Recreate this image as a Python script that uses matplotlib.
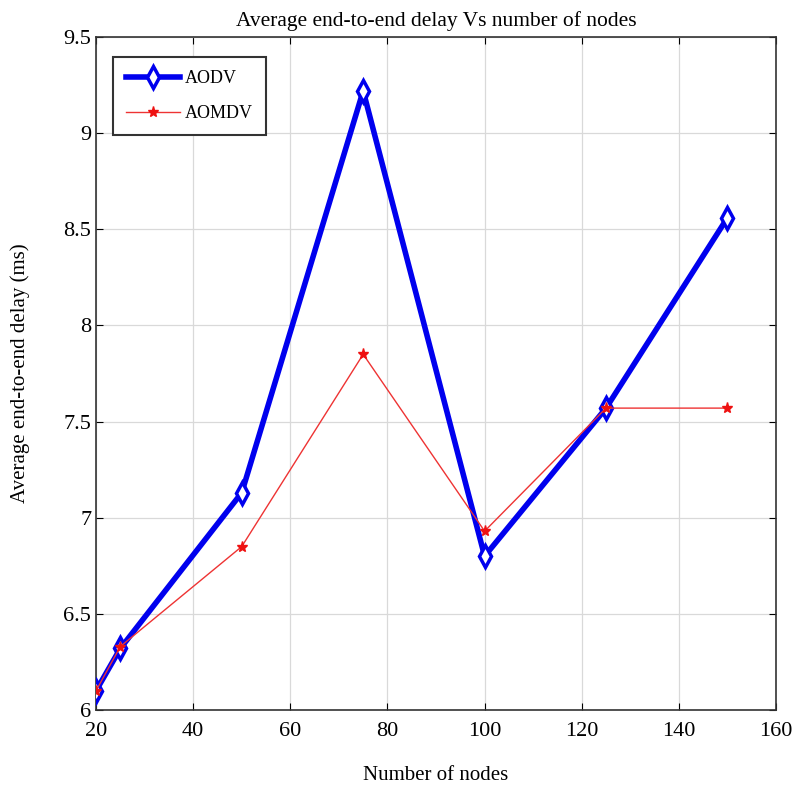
import matplotlib
matplotlib.use("Agg")
import matplotlib.pyplot as plt

nodes = [20, 25, 50, 75, 100, 125, 150]
aodv = [6.10, 6.32, 7.13, 9.22, 6.80, 7.57, 8.56]
aomdv = [6.10, 6.33, 6.85, 7.85, 6.93, 7.57, 7.57]

plt.rcParams["font.family"] = ["Liberation Serif", "DejaVu Serif"]

fig = plt.figure(figsize=(8.03, 7.93), dpi=100)
ax = fig.add_axes([0.1196, 0.1047, 0.8468, 0.8486])

ax.plot(nodes, aodv, color="#0000ee", linewidth=4, marker="d", markersize=11,
        markerfacecolor="white", markeredgecolor="#0000ee", markeredgewidth=2.5,
        label="AODV", zorder=3)
ax.plot(nodes, aomdv, color="#ee3333", linewidth=1, marker="*", markersize=8,
        markerfacecolor="#ee1111", markeredgecolor="#ee1111", label="AOMDV", zorder=4)

ax.set_xlim(20, 160)
ax.set_ylim(6, 9.5)
ax.set_xticks(range(20, 161, 20))
ax.set_yticks([6, 6.5, 7, 7.5, 8, 8.5, 9, 9.5])
ax.set_yticklabels(["6", "6.5", "7", "7.5", "8", "8.5", "9", "9.5"])
ax.tick_params(direction="in", labelsize=16, length=5, top=True, right=True)
ax.tick_params(axis="x", pad=9)
ax.grid(color="#d9d9d9", linewidth=0.9)
ax.set_axisbelow(True)
for s in ax.spines.values():
    s.set_linewidth(1.2)
    s.set_color("#333333")

ax.set_title("Average end-to-end delay Vs number of nodes", fontsize=15.5, pad=8)
ax.set_xlabel("Number of nodes", fontsize=15, labelpad=18)
ax.set_ylabel("Average end-to-end delay (ms)", fontsize=15, labelpad=24)

leg = ax.legend(loc="upper left", bbox_to_anchor=(0.025, 0.97), fontsize=13,
                fancybox=False, edgecolor="#333333", framealpha=1,
                handlelength=3.0, borderpad=0.7, labelspacing=1.0,
                handletextpad=0.3, borderaxespad=0)
leg.get_frame().set_linewidth(1.5)

fig.savefig("out.png", dpi=100)
